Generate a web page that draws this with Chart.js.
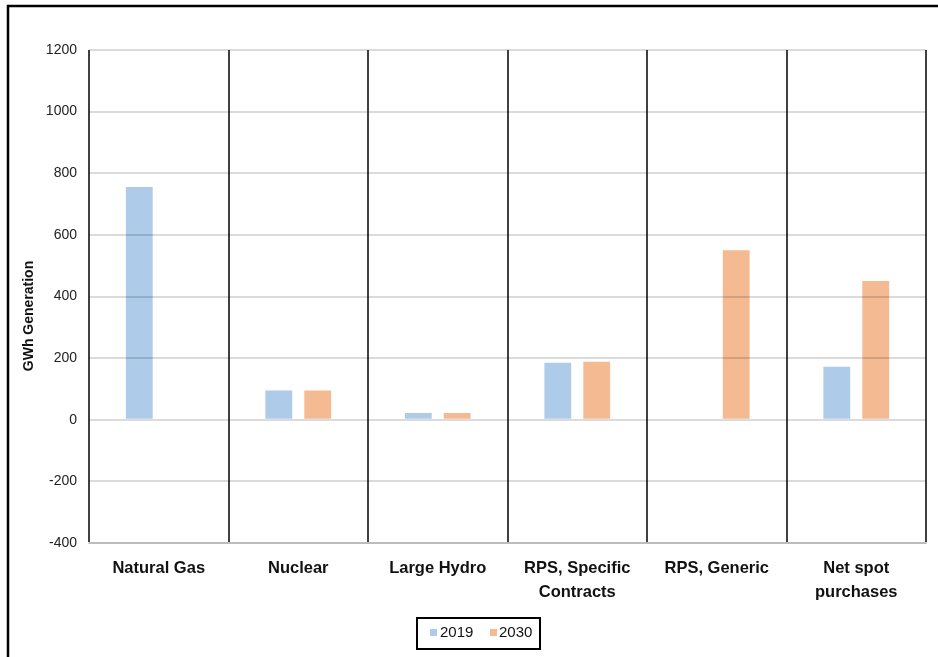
<!DOCTYPE html>
<html>
<head>
<meta charset="utf-8">
<script src="https://cdn.jsdelivr.net/npm/chart.js@4.4.1/dist/chart.umd.min.js"></script>
<style>
html,body{margin:0;padding:0;background:#fff;}
#wrap{width:938px;height:657px;position:relative;}
</style>
</head>
<body>
<div id="wrap"><canvas id="c" width="938" height="657"></canvas></div>
<script>
const categories = ["Natural Gas", "Nuclear", "Large Hydro", ["RPS, Specific", "Contracts"], "RPS, Generic", ["Net spot", "purchases"]];
const seriesNames = ["2019", "2030"];
const values2019 = [755, 95, 22, 185, 0, 172];
const values2030 = [0, 95, 22, 188, 550, 450];
const yTicks = [1200, 1000, 800, 600, 400, 200, 0, -200, -400];
const yTitle = "GWh Generation";
const colors = ["#aecbe9", "#f4bb93"];

const FONT = "'Liberation Sans', Arial, sans-serif";

const decor = {
  id: 'decor',
  beforeDraw(chart) {
    const ctx = chart.ctx;
    ctx.save();
    ctx.fillStyle = '#fff';
    ctx.fillRect(0, 0, chart.width, chart.height);
    ctx.restore();
  },
  afterDraw(chart) {
    const ctx = chart.ctx;
    ctx.save();
    // outer frame
    ctx.strokeStyle = '#000';
    ctx.lineWidth = 2.5;
    ctx.beginPath();
    ctx.moveTo(8, 660);
    ctx.lineTo(8, 6);
    ctx.lineTo(940, 6);
    ctx.stroke();
    // y title
    ctx.fillStyle = '#111';
    ctx.font = "bold 14px " + FONT;
    ctx.textAlign = 'center';
    ctx.textBaseline = 'middle';
    ctx.translate(29, 316);
    ctx.rotate(-Math.PI / 2);
    ctx.fillText(yTitle, 0, 0);
    ctx.restore();
    // legend
    ctx.save();
    const lx = 417, ly = 618, lw = 123, lh = 31;
    ctx.strokeStyle = '#000';
    ctx.lineWidth = 2;
    ctx.strokeRect(lx, ly, lw, lh);
    ctx.font = "15px " + FONT;
    ctx.textBaseline = 'middle';
    ctx.textAlign = 'left';
    const items = [[430, 440], [490, 499]];
    chart.data.datasets.forEach((ds, i) => {
      ctx.fillStyle = ds.backgroundColor;
      ctx.fillRect(items[i][0], 629, 7, 7);
      ctx.fillStyle = '#111';
      ctx.fillText(ds.label, items[i][1], 633);
    });
    ctx.restore();
  }
};

new Chart(document.getElementById('c'), {
  type: 'bar',
  data: {
    labels: categories,
    datasets: [
      { label: seriesNames[0], data: values2019, backgroundColor: colors[0], borderWidth: 0 },
      { label: seriesNames[1], data: values2030, backgroundColor: colors[1], borderWidth: 0 }
    ]
  },
  options: {
    responsive: false,
    animation: false,
    devicePixelRatio: 1,
    layout: { padding: { left: 0, top: 50, right: 12, bottom: 0 } },
    datasets: { bar: { categoryPercentage: 0.558, barPercentage: 0.69 } },
    plugins: { legend: { display: false }, tooltip: { enabled: false }, title: { display: false } },
    scales: {
      x: {
        grid: { offset: true, color: '#404040', lineWidth: 2, drawTicks: false },
        border: { display: true, color: 'rgba(0,0,0,0.14)', width: 2 },
        ticks: { color: '#111', font: { family: FONT, size: 16.5, weight: 'bold', lineHeight: 1.42 }, padding: 14, maxRotation: 0, autoSkip: false },
        afterFit(scale) { scale.height = 114; }
      },
      y: {
        min: -400, max: 1200,
        afterBuildTicks(scale) { scale.ticks = yTicks.map(v => ({ value: v })); },
        grid: { color: 'rgba(0,0,0,0.14)', lineWidth: 2, drawTicks: false, z: 1 },
        border: { display: false },
        ticks: { color: '#222', font: { family: FONT, size: 14 }, padding: 12, callback: (v) => String(v) },
        afterFit(scale) { scale.width = 89; }
      }
    }
  },
  plugins: [decor]
});
</script>
</body>
</html>
